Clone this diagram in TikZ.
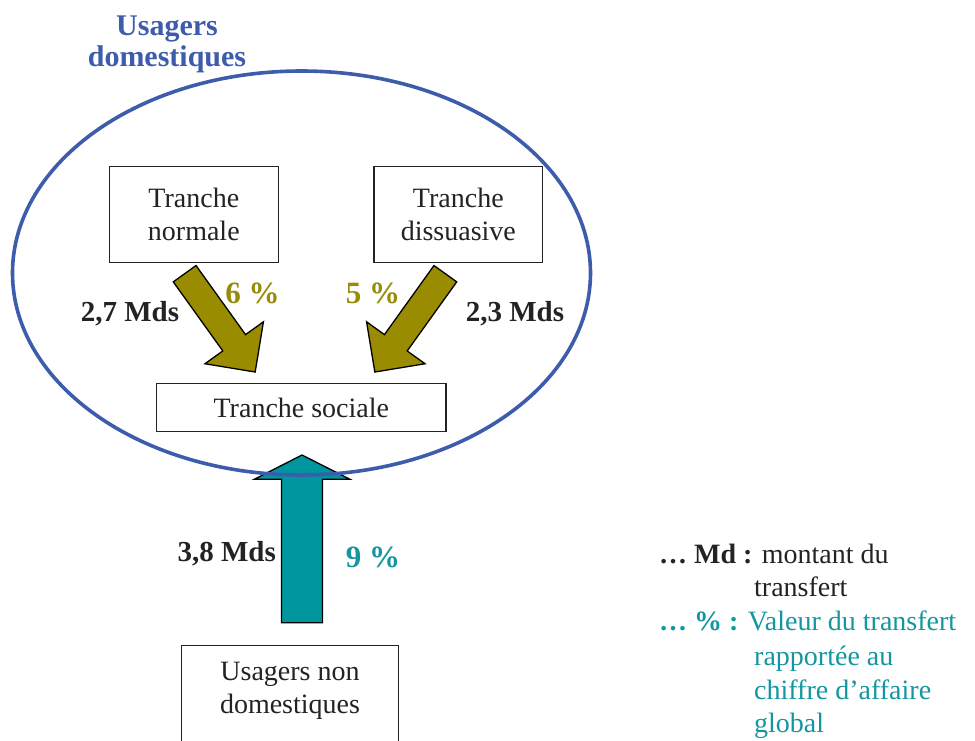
\documentclass[tikz,border=0pt]{standalone}
\usepackage{fontspec}
\setmainfont{Liberation Serif}
\definecolor{olivefill}{RGB}{153,140,0}
\definecolor{olivetext}{RGB}{150,140,10}
\definecolor{tealfill}{RGB}{0,150,160}
\definecolor{tealtext}{RGB}{20,150,160}
\definecolor{ellblue}{RGB}{62,92,172}
\definecolor{darkline}{RGB}{35,35,35}
\begin{document}
\begin{tikzpicture}[x=1pt,y=-1pt,
  boxnode/.style={draw=darkline, line width=1.4pt, fill=white, align=center, inner sep=0pt,
    font=\fontsize{28}{33}\selectfont, text=darkline},
  plaintext/.style={align=center, inner sep=0pt, font=\fontsize{28}{33}\selectfont, text=darkline},
  mdslabel/.style={anchor=base, inner sep=0pt, font=\bfseries\fontsize{29}{33}\selectfont, text=darkline},
  pctlabel/.style={anchor=base, inner sep=0pt, font=\bfseries\fontsize{31}{33}\selectfont},
  legtext/.style={anchor=base west, inner sep=0pt, font=\fontsize{28}{33}\selectfont},
  blockarrow/.style={draw=black, line width=1.3pt, line join=miter}
]
\useasboundingbox (0,0) rectangle (975,740);
\clip (0,0) rectangle (975,740);

% title
\node[anchor=base, inner sep=0pt, font=\bfseries\fontsize{30}{31}\selectfont, text=ellblue] (titleA) at (167,35) {Usagers};
\node[anchor=base, inner sep=0pt, font=\bfseries\fontsize{30}{31}\selectfont, text=ellblue] (titleB) at (167,66.7) {domestiques};

% boxes
\node[boxnode, minimum width=169pt, minimum height=96pt] (tn) at (193.8,214.7) {Tranche\\normale};
\node[boxnode, minimum width=168.7pt, minimum height=96pt] (td) at (458.35,214.7) {Tranche\\dissuasive};
\node[boxnode, minimum width=289.3pt, minimum height=48.4pt] (ts) at (301.35,407.5) {Tranche sociale};
\draw[draw=darkline, line width=1.4pt, fill=white] (181.7,645.7) rectangle (398.3,770);
\node[plaintext] (und) at (290,691) {Usagers non\\domestiques};

% olive block arrows
\coordinate (tailL) at (184.65,273.7);
\coordinate (tailR) at (445.35,273.7);
\begin{scope}[shift={(tailL)}, rotate=-54.35]
  \draw[blockarrow, fill=olivefill] (0,14) -- (85,14) -- (85,36) -- (121,0) -- (85,-36) -- (85,-14) -- (0,-14) -- cycle;
\end{scope}
\begin{scope}[shift={(tailR)}, rotate=54.35]
  \draw[blockarrow, fill=olivefill] (0,14) -- (-85,14) -- (-85,36) -- (-121,0) -- (-85,-36) -- (-85,-14) -- (0,-14) -- cycle;
\end{scope}

% teal block arrow
\draw[blockarrow, fill=tealfill] (281.5,622.7) -- (281.5,479.3) -- (254.3,479.3) -- (302,455) -- (350,479.3) -- (322.5,479.3) -- (322.5,622.7) -- cycle;

% ellipse
\draw[ellblue, line width=3.6pt] (301.5,273) ellipse [x radius=289pt, y radius=202pt];

% labels
\node[mdslabel] (m1) at (130,321.7) {2,7 Mds};
\node[pctlabel, text=olivetext] (p1) at (252.5,303) {6 \%};
\node[pctlabel, text=olivetext] (p2) at (373,303) {5 \%};
\node[mdslabel] (m2) at (515,321.7) {2,3 Mds};
\node[mdslabel] (m3) at (226.7,561.7) {3,8 Mds};
\node[pctlabel, text=tealtext] (p3) at (373,567.7) {9 \%};

% legend
\node[legtext, text=darkline] (l1) at (659,563) {\textbf{… Md :} montant du};
\node[legtext, text=darkline] (l2) at (754,596) {transfert};
\node[legtext, text=tealtext] (l3) at (659,630) {\textbf{… \% :} Valeur du transfert};
\node[legtext, text=tealtext] (l4) at (754,665) {rapportée au};
\node[legtext, text=tealtext] (l5) at (754,699) {chiffre d’affaire};
\node[legtext, text=tealtext] (l6) at (754,732.5) {global};
\end{tikzpicture}
\end{document}
